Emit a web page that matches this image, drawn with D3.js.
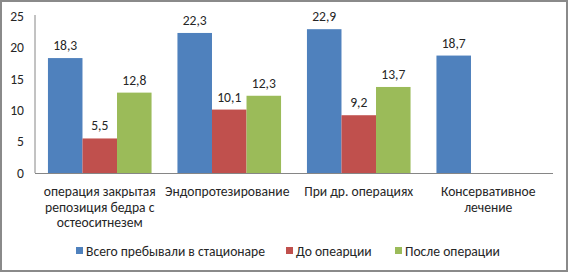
<!DOCTYPE html>
<html><head><meta charset="utf-8">
<script src="https://cdn.jsdelivr.net/npm/d3@7"></script>
<style>body{margin:0;background:#fff}svg{display:block}text{font-family:Carlito,Lato,"Open Sans",sans-serif;fill:#262626}</style>
</head><body><svg id="c" width="569" height="272"></svg>
<script>
const categories = [["операция закрытая","репозиция бедра с","остеоситнезем"],["Эндопротезирование"],["При др. операциях"],["Консервативное","лечение"]];
const seriesNames = ["Всего пребывали в стационаре","До опеарции","После операции"];
const colors = ["#4f81bd","#c0504d","#9bbb59"];
const total = [18.3,22.3,22.9,18.7];
const before = [5.5,10.1,9.2,null];
const after = [12.8,12.3,13.7,null];
const yTicks = [0,5,10,15,20,25];
const series = [total,before,after];

const svg = d3.select("#c");
svg.append("rect").attr("x",1).attr("y",1).attr("width",566).attr("height",270).attr("fill","none").attr("stroke","#8a8a8a").attr("stroke-width",2);

const x0 = d3.scaleBand().domain(d3.range(categories.length)).range([35,553]).paddingInner(0.2).paddingOuter(0.1);
const x1 = d3.scaleBand().domain(d3.range(series.length)).range([0,x0.bandwidth()]);
const y = d3.scaleLinear().domain([0,25]).range([173,16]);
const fs = 13.6;

// y axis
const ya = svg.append("g").attr("transform","translate(35,0)").call(d3.axisLeft(y).tickValues(yTicks).tickSize(0).tickPadding(11));
ya.select(".domain").attr("stroke","#868686").attr("d","M0,15V173");
ya.selectAll("text").style("font-size",fs+"px").attr("fill","#262626").style("font-family",null);

const g = svg.append("g");
series.forEach((s,si)=>{
  s.forEach((v,ci)=>{
    if(v==null) return;
    const bx = x0(ci)+x1(si);
    g.append("rect").attr("x",bx).attr("y",y(v)).attr("width",x1.bandwidth()).attr("height",y(0)-y(v)).attr("fill",colors[si]);
    g.append("text").attr("x",bx+x1.bandwidth()/2).attr("y",y(v)-8).attr("text-anchor","middle").style("font-size",fs+"px").text(String(v).replace(".",","));
  });
});

// x axis
svg.append("line").attr("x1",35).attr("x2",553).attr("y1",173.5).attr("y2",173.5).attr("stroke","#868686");
categories.forEach((lines,ci)=>{
  const t = svg.append("text").attr("text-anchor","middle").style("font-size",fs+"px");
  lines.forEach((l,li)=>t.append("tspan").attr("x",x0(ci)+x0.bandwidth()/2+ (ci==1?-2:0)).attr("y",196+li*15.5).text(l));
});

// legend
const legX = [76,286,395];
seriesNames.forEach((n,i)=>{
  svg.append("rect").attr("x",legX[i]).attr("y",247).attr("width",7).attr("height",7).attr("fill",colors[i]);
  svg.append("text").attr("x",legX[i]+10).attr("y",255.5).style("font-size",fs+"px").text(n);
});
</script></body></html>
